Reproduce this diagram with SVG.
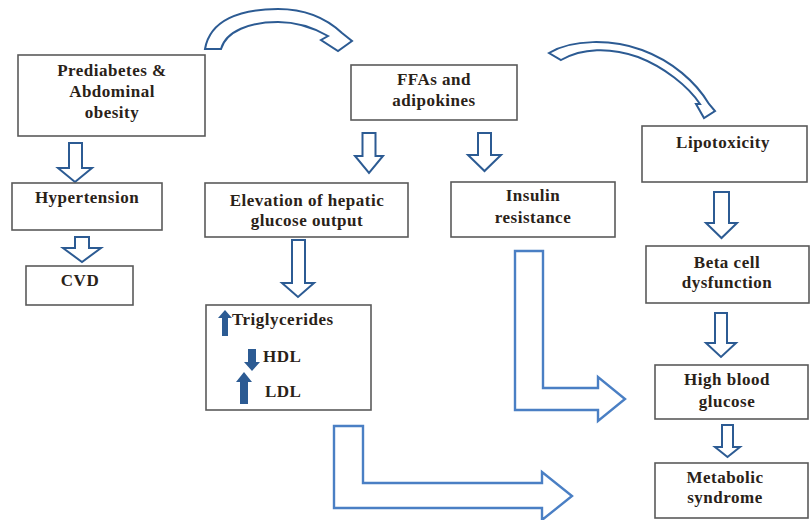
<svg xmlns="http://www.w3.org/2000/svg" width="811" height="520" viewBox="0 0 811 520">
<style>
.box{fill:#fff;stroke:#5a5a5a;stroke-width:1.6}
.t{font-family:'Liberation Serif','DejaVu Serif',serif;font-weight:bold;font-size:17px;fill:#2a2218;text-anchor:middle;letter-spacing:0.5px}
.tl{text-anchor:start}
.da{fill:#fff;stroke:#2c5b93;stroke-width:2;stroke-linejoin:miter}
.el{fill:#fff;stroke:#4a7fc4;stroke-width:2.4;stroke-linejoin:miter}
.sm{fill:#2c5b93}
</style>
<rect width="811" height="520" fill="#fff"/>
<g id="connectors">
<path class="da" d="M205,49 L221,49 C226,31 250,22 278,22 C298,22 314,28 328,36 L321,40 L338,51 L352,41 L342,33 C326,18 304,9 278,9 C240,9 210,20 205,49 Z"/>
<path class="da" d="M549,53 C572,39 612,39 642,50 C672,61 696,82 709,104 L715,111 L704,118 L696,104 L700,104 C688,86 664,67 638,57 C610,47 582,48 561,60 Z"/>
<polygon class="da" points="69,143 82,143 82,168 92,168 75,182 58,168 69,168"/>
<polygon class="da" points="75,237 89,237 89,248 101,248 82,262 63,248 75,248"/>
<polygon class="da" points="362.5,133 375.5,133 375.5,156 383,156 369,173 355,156 362.5,156"/>
<polygon class="da" points="478,133 491,133 491,155 501,155 484.5,171 468,155 478,155"/>
<polygon class="da" points="292,240 305,240 305,283 314,283 298,297 282,283 292,283"/>
<polygon class="da" points="714,192 729,192 729,223 737,223 721.5,238 706,223 714,223"/>
<polygon class="da" points="715,313 727,313 727,343 736,343 721,357 706,343 715,343"/>
<polygon class="da" points="722,425 733,425 733,447 740,447 727.5,457 715,447 722,447"/>
<path class="el" d="M515,251 H543 V388 H598 V377 L625,399 L598,421 V410 H515 Z"/>
<path class="el" d="M334,426 H363 V483 H542 V472 L572,496 L542,520 V508 H334 Z"/>
</g>
<g id="prediabetes">
<rect class="box" x="18" y="55" width="187" height="81"/>
<text class="t" x="112" y="76">Prediabetes &amp;</text>
<text class="t" x="112" y="97">Abdominal</text>
<text class="t" x="112" y="118">obesity</text>
</g>
<g id="ffas">
<rect class="box" x="351" y="65" width="166" height="55"/>
<text class="t" x="434" y="85">FFAs and</text>
<text class="t" x="434" y="106">adipokines</text>
</g>
<g id="lipotoxicity">
<rect class="box" x="642" y="126" width="165" height="56"/>
<text class="t" x="723" y="148">Lipotoxicity</text>
</g>
<g id="hypertension">
<rect class="box" x="12" y="183" width="150" height="47"/>
<text class="t" x="87" y="203">Hypertension</text>
</g>
<g id="cvd">
<rect class="box" x="26" y="266" width="107" height="39"/>
<text class="t" x="80" y="286">CVD</text>
</g>
<g id="elevation">
<rect class="box" x="205" y="183" width="203" height="54"/>
<text class="t" x="307" y="206">Elevation of hepatic</text>
<text class="t" x="307" y="226">glucose output</text>
</g>
<g id="insulin">
<rect class="box" x="451" y="182" width="164" height="55"/>
<text class="t" x="533" y="201">Insulin</text>
<text class="t" x="533" y="223">resistance</text>
</g>
<g id="beta">
<rect class="box" x="646" y="246" width="163" height="57"/>
<text class="t" x="727" y="268">Beta cell</text>
<text class="t" x="727" y="288">dysfunction</text>
</g>
<g id="lipids">
<rect class="box" x="206" y="305" width="165" height="105"/>
<polygon class="sm" points="225,310 232,318 228,318 228,336 222,336 222,318 218,318"/>
<text class="t tl" x="232" y="325">Triglycerides</text>
<polygon class="sm" points="248,349 256,349 256,362 260,362 252,371 244,362 248,362"/>
<text class="t tl" x="263" y="362">HDL</text>
<polygon class="sm" points="244,372 252,382 248,382 248,404 240,404 240,382 236,382"/>
<text class="t tl" x="265" y="397">LDL</text>
</g>
<g id="highglucose">
<rect class="box" x="655" y="365" width="153" height="54"/>
<text class="t" x="727" y="385">High blood</text>
<text class="t" x="727" y="407">glucose</text>
</g>
<g id="metabolic">
<rect class="box" x="655" y="463" width="153" height="55"/>
<text class="t" x="725" y="483">Metabolic</text>
<text class="t" x="725" y="503">syndrome</text>
</g>
</svg>
